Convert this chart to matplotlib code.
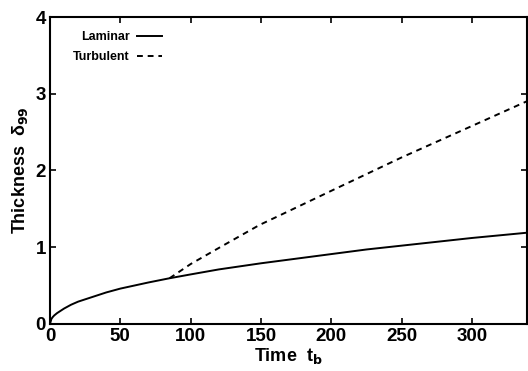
"""Boundary layer thickness vs time: laminar and turbulent"""

import matplotlib
matplotlib.use("Agg")
import matplotlib.pyplot as plt

plt.rcParams['font.family'] = ['Liberation Sans', 'DejaVu Sans']
plt.rcParams['font.weight'] = 'bold'
plt.rcParams['axes.labelweight'] = 'bold'
plt.rcParams['mathtext.default'] = 'bf'

# values
laminar_t = [0, 1, 2, 3, 5, 10, 15, 20, 30, 40, 50, 60, 70, 85, 100, 120, 150,
             175, 200, 225, 250, 275, 300, 320, 340]
laminar_d = [0, 0.065, 0.09, 0.11, 0.14, 0.20, 0.25, 0.29, 0.35, 0.41, 0.46,
             0.50, 0.54, 0.595, 0.645, 0.71, 0.79, 0.85, 0.91, 0.97, 1.02,
             1.07, 1.12, 1.155, 1.19]

turbulent_t = [85, 100, 121, 149, 164, 204, 250, 300, 340]
turbulent_d = [0.595, 0.78, 1.0, 1.29, 1.42, 1.77, 2.17, 2.58, 2.91]

x_ticks = [0, 50, 100, 150, 200, 250, 300]
y_ticks = [0, 1, 2, 3, 4]

fig = plt.figure(figsize=(5.28, 3.71), dpi=100)
ax = fig.add_axes([0.0947, 0.127, 0.903, 0.827])

ax.plot(laminar_t, laminar_d, color='black', lw=1.4, label='Laminar')
ax.plot(turbulent_t, turbulent_d, color='black', lw=1.4, ls=(0, (3, 2.5)),
        label='Turbulent')

ax.set_xlim(0, 339)
ax.set_ylim(0, 4)
ax.set_xticks(x_ticks)
ax.set_yticks(y_ticks)
ax.tick_params(direction='in', top=True, right=True, length=4, width=1.2,
               labelsize=13.5, pad=3)
for s in ax.spines.values():
    s.set_linewidth(1.5)

ax.set_xlabel('Time  t$_\\mathrm{b}$', fontsize=13, labelpad=1)
ax.set_ylabel('Thickness  δ$_{99}$', fontsize=13, labelpad=4)

leg = ax.legend(loc='upper left', bbox_to_anchor=(0.025, 0.99), frameon=False,
                markerfirst=False, prop={'size': 9, 'weight': 'bold'},
                handlelength=2.0, handletextpad=0.6, labelspacing=0.6)
# right-align legend labels
leg._legend_box.align = 'right'

fig.savefig('out.png', dpi=100)
